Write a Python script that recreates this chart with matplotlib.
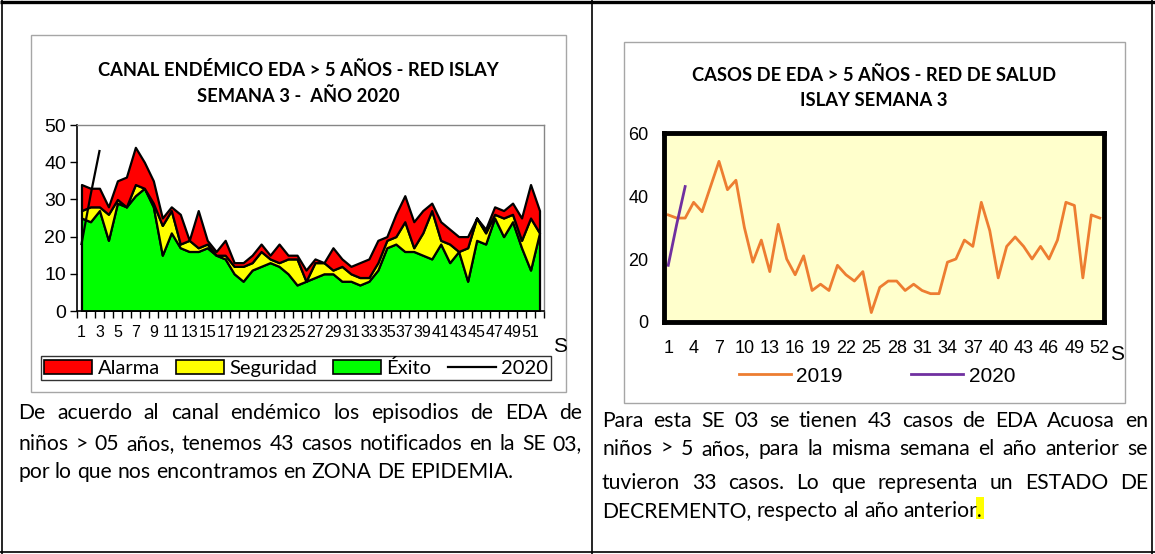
import numpy as np
import matplotlib
matplotlib.use("Agg")
import matplotlib.pyplot as plt
from matplotlib.patches import Patch, Rectangle
from matplotlib.lines import Line2D

# ── datos ────────────────────────────────────────────────────────────────
semanas = np.arange(1, 53)

# canal endémico: límite superior de cada zona (casos)
lim_exito = [25, 24, 27, 19, 29, 28, 31, 33, 28, 15, 21, 17, 16, 16, 17, 15, 14, 10, 8, 11,
             12, 13, 12, 10, 7, 8, 9, 10, 10, 8, 8, 7, 8, 11, 17, 18, 16, 16, 15, 14,
             18, 13, 16, 8, 19, 18, 25, 20, 24, 17, 11, 21]
lim_seguridad = [27, 28, 28, 26, 30, 28, 34, 33, 29, 23, 27, 18, 19, 17, 18, 15, 15, 12, 12, 13,
                 16, 14, 13, 14, 14, 8, 13, 13, 11, 12, 10, 9, 9, 13, 19, 20, 24, 17, 21, 27,
                 19, 18, 16, 17, 25, 21, 26, 25, 26, 19, 25, 21]
lim_alarma = [34, 33, 33, 28, 35, 36, 44, 40, 35, 25, 28, 26, 19, 27, 19, 16, 19, 13, 13, 15,
              18, 15, 18, 15, 15, 11, 14, 13, 17, 14, 12, 13, 14, 19, 20, 26, 31, 24, 27, 29,
              24, 22, 20, 20, 25, 22, 28, 27, 29, 25, 34, 27]
casos_2020 = [18, 31, 43]

casos_2019 = [34, 33, 33, 38, 35, 43, 51, 42, 45, 30, 19, 26, 16, 31, 20, 15, 21, 10, 12, 10,
              18, 15, 13, 16, 3, 11, 13, 13, 10, 12, 10, 9, 9, 19, 20, 26, 24, 38, 29, 14,
              24, 27, 24, 20, 24, 20, 26, 38, 37, 14, 34, 33]

ticks_izq = list(range(1, 52, 2))
ticks_der = list(range(1, 53, 3))

texto_izq = ["De acuerdo al canal endémico los episodios de EDA  de",
             "niños > 05 años, tenemos 43 casos notificados en la SE 03,",
             "por lo que nos encontramos en ZONA DE EPIDEMIA."]
texto_der = ["Para esta SE 03  se tienen 43 casos de EDA Acuosa en",
             "niños > 5 años, para la misma semana el año anterior se",
             "tuvieron 33 casos. Lo que representa un ESTADO DE",
             "DECREMENTO, respecto al año anterior."]

C_ROJO, C_AMAR, C_VERDE = "#FF0000", "#FFFF00", "#00FF00"
C_2019, C_2020 = "#ED7D31", "#7030A0"
ARIAL, CALIBRI = "Liberation Sans", "Lato"

W, H = 1155, 554
fig = plt.figure(figsize=(W / 100, H / 100), dpi=100)


def rect(x0, y0, x1, y1):
    return [x0 / W, 1 - y1 / H, (x1 - x0) / W, (y1 - y0) / H]


# fondo en coordenadas de píxel
bg = fig.add_axes([0, 0, 1, 1], zorder=0)
bg.set_xlim(0, W)
bg.set_ylim(H, 0)
bg.axis("off")

# bordes de la tabla
for xa, ya, xb, yb, lw in [(0, 2, W, 2, 2.4), (0, 552, W, 552, 1.2),
                            (2, 0, 2, H, 1.2), (592, 0, 592, H, 1.2),
                            (1152, 0, 1152, H, 1.2)]:
    bg.plot([xa, xb], [ya, yb], color="black", lw=lw, solid_capstyle="butt")

# marcos de los gráficos
bg.add_patch(Rectangle((31, 35), 535, 357, facecolor="white", edgecolor="#A6A6A6", lw=1))
bg.add_patch(Rectangle((624, 42), 501, 361, facecolor="white", edgecolor="#A6A6A6", lw=1))

# títulos
tit = dict(ha="center", va="center", fontsize=13.2, fontweight="bold", family=CALIBRI)
bg.text(298, 70, "CANAL ENDÉMICO EDA > 5 AÑOS - RED ISLAY", **tit)
bg.text(298, 96, "SEMANA 3 -  AÑO 2020", **tit)
bg.text(874, 75, "CASOS DE EDA > 5 AÑOS - RED DE SALUD", **tit)
bg.text(874, 101, "ISLAY SEMANA 3", **tit)

# ── canal endémico ───────────────────────────────────────────────────────
ax1 = fig.add_axes(rect(77, 125, 544, 311), zorder=1)
kw = dict(edgecolor="black", lw=1.6)
ax1.fill_between(semanas, 0, lim_exito, facecolor=C_VERDE, **kw)
ax1.fill_between(semanas, lim_exito, lim_seguridad, facecolor=C_AMAR, **kw)
ax1.fill_between(semanas, lim_seguridad, lim_alarma, facecolor=C_ROJO, **kw)
ax1.plot(semanas[:len(casos_2020)], casos_2020, color="black", lw=1.6)
ax1.set_xlim(0.5, 52.5)
ax1.set_ylim(0, 50)
ax1.set_yticks(range(0, 51, 10))
ax1.set_xticks(ticks_izq)
ax1.set_xticklabels([str(t) for t in ticks_izq])
ax1.set_xticks(np.arange(0.5, 53), minor=True)
ax1.tick_params(axis="x", which="major", length=0, pad=10, labelsize=11.5)
ax1.tick_params(axis="x", which="minor", length=5, width=1, direction="out")
ax1.tick_params(axis="y", length=5, width=1, direction="out", pad=3, labelsize=14)
for lab in ax1.get_xticklabels() + ax1.get_yticklabels():
    lab.set_family(ARIAL)
for s in ["left", "bottom"]:
    ax1.spines[s].set_linewidth(1.2)
for s in ["top", "right"]:
    ax1.spines[s].set_color("#868686")
    ax1.spines[s].set_linewidth(1)
bg.text(560, 346, "S", ha="center", va="center", fontsize=15, family=ARIAL)

hand1 = [Patch(facecolor=C_ROJO, edgecolor="black", lw=1.2, label="Alarma"),
         Patch(facecolor=C_AMAR, edgecolor="black", lw=1.2, label="Seguridad"),
         Patch(facecolor=C_VERDE, edgecolor="black", lw=1.2, label="Éxito"),
         Line2D([], [], color="black", lw=1.6, label="2020")]
leg1 = fig.legend(handles=hand1, loc="center", bbox_to_anchor=(296 / W, 1 - 368 / H),
                  ncol=4, frameon=True, fancybox=False, edgecolor="black",
                  prop=dict(family=CALIBRI, size=14.5), handlelength=2.4, handleheight=0.75,
                  handletextpad=0.25, columnspacing=0.8, borderpad=0.15, borderaxespad=0)
leg1.get_frame().set_linewidth(1)

# ── casos 2019 / 2020 ────────────────────────────────────────────────────
ax2 = fig.add_axes(rect(664, 133, 1104, 322), zorder=1)
ax2.set_facecolor("#FFFFCC")
ax2.plot(semanas, casos_2019, color=C_2019, lw=2, label="2019")
ax2.plot(semanas[:len(casos_2020)], casos_2020, color=C_2020, lw=2, label="2020")
ax2.set_xlim(0.5, 52.5)
ax2.set_ylim(0, 60)
ax2.set_yticks(range(0, 61, 20))
ax2.set_xticks(ticks_der)
ax2.tick_params(length=0, labelsize=13)
ax2.tick_params(axis="y", pad=11)
ax2.tick_params(axis="x", pad=13)
for lab in ax2.get_xticklabels() + ax2.get_yticklabels():
    lab.set_family(ARIAL)
for s in ax2.spines.values():
    s.set_linewidth(3.5)
    s.set_color("black")
bg.text(1117, 354, "S", ha="center", va="center", fontsize=15, family=ARIAL)

fig.legend(handles=ax2.get_legend_handles_labels()[0], loc="center",
           bbox_to_anchor=(877 / W, 1 - 376 / H), ncol=2, frameon=False,
           prop=dict(family=ARIAL, size=15), handlelength=2.5, handletextpad=0.25,
           columnspacing=3.3, borderaxespad=0)

# ── párrafos justificados ────────────────────────────────────────────────
rend = fig.canvas.get_renderer()


def parrafo(lineas, x0, x1, ys, size):
    sp = bg.text(0, 0, "a a", fontsize=size, family=CALIBRI)
    nsp = bg.text(0, 0, "aa", fontsize=size, family=CALIBRI)
    esp = sp.get_window_extent(rend).width - nsp.get_window_extent(rend).width
    sp.remove()
    nsp.remove()
    ultimo = None
    for k, (linea, y) in enumerate(zip(lineas, ys)):
        pal = linea.split()
        arts = [bg.text(0, y, p, fontsize=size, family=CALIBRI, va="center_baseline")
                for p in pal]
        anchos = [a.get_window_extent(rend).width for a in arts]
        if k == len(lineas) - 1:
            hueco = esp
        else:
            hueco = (x1 - x0 - sum(anchos)) / (len(pal) - 1)
        x = x0
        for a, an in zip(arts, anchos):
            a.set_x(x)
            x += an + hueco
        ultimo = arts[-1]
    return ultimo


parrafo(texto_izq, 18, 582, [411, 442, 470], 15.2)
fin = parrafo(texto_der, 602, 1148, [419, 447, 481, 509], 15.2)
bb = fin.get_window_extent(rend)
bg.add_patch(Rectangle((bb.x1 - 7, 497), 8, 22, facecolor="#FFFF00", edgecolor="none",
                       zorder=0.5))

fig.savefig("out.png", dpi=100)
